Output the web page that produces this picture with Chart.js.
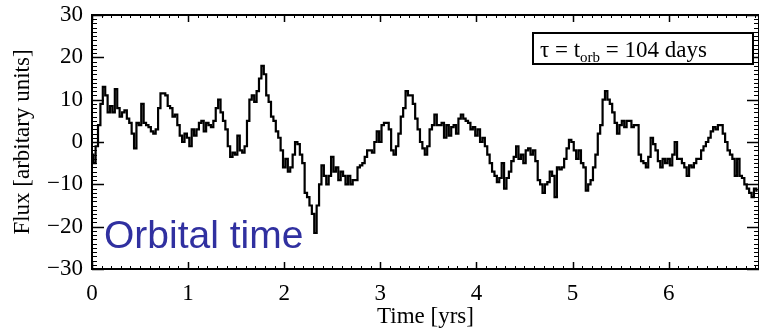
<!DOCTYPE html>
<html><head><meta charset="utf-8">
<script src="https://cdn.jsdelivr.net/npm/chart.js@4/dist/chart.umd.min.js"></script>
<style>html,body{margin:0;padding:0;background:#fff}canvas{display:block}</style>
</head><body>
<canvas id="c" width="762" height="330"></canvas>
<script>
// Time in years (uniform sampling)
const times = [
0,0.025,0.05,0.075,0.1,0.125,0.15,0.175,
0.2,0.225,0.25,0.275,0.3,0.325,0.35,0.375,
0.4,0.425,0.45,0.475,0.5,0.525,0.55,0.575,
0.6,0.625,0.65,0.675,0.7,0.725,0.75,0.775,
0.8,0.825,0.85,0.875,0.9,0.925,0.95,0.975,
1,1.025,1.05,1.075,1.1,1.125,1.15,1.175,
1.2,1.225,1.25,1.275,1.3,1.325,1.35,1.375,
1.4,1.425,1.45,1.475,1.5,1.525,1.55,1.575,
1.6,1.625,1.65,1.675,1.7,1.725,1.75,1.775,
1.8,1.825,1.85,1.875,1.9,1.925,1.95,1.975,
2,2.025,2.05,2.075,2.1,2.125,2.15,2.175,
2.2,2.225,2.25,2.275,2.3,2.325,2.35,2.375,
2.4,2.425,2.45,2.475,2.5,2.525,2.55,2.575,
2.6,2.625,2.65,2.675,2.7,2.725,2.75,2.775,
2.8,2.825,2.85,2.875,2.9,2.925,2.95,2.975,
3,3.025,3.05,3.075,3.1,3.125,3.15,3.175,
3.2,3.225,3.25,3.275,3.3,3.325,3.35,3.375,
3.4,3.425,3.45,3.475,3.5,3.525,3.55,3.575,
3.6,3.625,3.65,3.675,3.7,3.725,3.75,3.775,
3.8,3.825,3.85,3.875,3.9,3.925,3.95,3.975,
4,4.025,4.05,4.075,4.1,4.125,4.15,4.175,
4.2,4.225,4.25,4.275,4.3,4.325,4.35,4.375,
4.4,4.425,4.45,4.475,4.5,4.525,4.55,4.575,
4.6,4.625,4.65,4.675,4.7,4.725,4.75,4.775,
4.8,4.825,4.85,4.875,4.9,4.925,4.95,4.975,
5,5.025,5.05,5.075,5.1,5.125,5.15,5.175,
5.2,5.225,5.25,5.275,5.3,5.325,5.35,5.375,
5.4,5.425,5.45,5.475,5.5,5.525,5.55,5.575,
5.6,5.625,5.65,5.675,5.7,5.725,5.75,5.775,
5.8,5.825,5.85,5.875,5.9,5.925,5.95,5.975,
6,6.025,6.05,6.075,6.1,6.125,6.15,6.175,
6.2,6.225,6.25,6.275,6.3,6.325,6.35,6.375,
6.4,6.425,6.45,6.475,6.5,6.525,6.55,6.575,
6.6,6.625,6.65,6.675,6.7,6.725,6.75,6.775,
6.8,6.825,6.85,6.875,6.9,6.925
];
// Flux [arbitrary units]
const flux = [
-3,-5,-1,4,9,13,11,7,
8.5,7,12.5,8,6,7,7.5,5.5,
4.5,2,-1.5,4.5,4,9,4.5,4,
3.5,2.5,2,3,8,11.5,11.5,11,
8.5,8,6,6.5,4,1.5,0,2,
1,-1,3,1.5,3,4.5,5,2.5,
4.5,4,3.5,5,8,10,7,5,
3,-1,-3.5,-2.5,-3,1.5,-2,-2.5,
-1,5,10,11,9.5,12,15,18,
16,11,9.5,6,5,2.5,1,-2,
-6,-4,-7,-6,-3,0,-0.5,-3,
-5,-12,-13,-15,-17,-21.5,-15,-10,
-5.5,-8,-10,-8,-3.5,-7,-6,-9,
-7,-8,-10,-8,-10,-9,-9,-6,
-5.5,-5,-3.5,-2,-2,-2.5,0,2.5,
0,4,4.5,4.5,3,-2,-3,-1,
2,6,8,12,11,11,9,5.5,
3,0,-1.5,-3,-1,3,4,6.5,
4,4,4.5,1,4,1.5,3.5,4,
2,5.5,6.5,5.5,5,4.5,3,3.5,
1.5,3,0,1,-1,-3,-5,-7,
-8,-9.5,-8.5,-5,-11,-8.5,-7,-4.5,
-3.5,-1,-4,-3,-5,-2,-1.5,-3,
-2,-4.5,-9,-10,-12,-10,-9.5,-7,
-8,-13,-6,-6.5,-6,-4,-1.5,0.5,
0,-2,-4,-2,-5,-6,-11.5,-10,
-9,-6,-3,2,4,10,12,10,
9,7,4.5,2,4,5,3.5,5,
5,3.5,4,4,-3,-4.5,-5,-6,
-3.5,1,-0.5,-2,-4.5,-6,-4,-5,
-4,-5.5,-3,0,-4,-4,-5,-6,
-8,-5.5,-6,-5,-4,-4,-2,-1,
0,1,2.5,3.5,3,4,4,2,
0,-2,-3,-4,-8,-4,-8,-8.5,
-10,-11,-12,-13,-11,-11.5
];
const xRange = [0, 6.94];
const yRange = [-30, 30];
const xTickLabels = [0,1,2,3,4,5,6];
const yTickLabels = [-30,-20,-10,0,10,20,30];
const xTitle = 'Time [yrs]';
const yTitle = 'Flux [arbitary units]';
const legendParts = ['\u03C4 = t', 'orb', ' = 104 days'];
const overlayText = 'Orbital time';

const SERIF = '"Liberation Serif", "Times New Roman", serif';

const framePlugin = {
  id: 'frame',
  afterDatasetsDraw(chart) {
    const {ctx, chartArea: a, scales: {x, y}} = chart;
    ctx.save();
    ctx.strokeStyle = '#000';
    // y ticks (inward, both sides)
    for (let v = yRange[0]; v <= yRange[1]; v += 1) {
      const py = Math.round(y.getPixelForValue(v)) + 0.5;
      const major = yTickLabels.includes(v);
      const L = major ? 12 : 5;
      ctx.lineWidth = major ? 1.5 : 1;
      ctx.beginPath();
      ctx.moveTo(a.left, py); ctx.lineTo(a.left + L, py);
      ctx.moveTo(a.right, py); ctx.lineTo(a.right - L, py);
      ctx.stroke();
    }
    // x ticks (inward, top and bottom)
    for (let i = 0; i / 10 <= xRange[1]; i++) {
      const v = i / 10;
      const px = Math.round(x.getPixelForValue(v)) + 0.5;
      const major = i % 10 === 0;
      const L = major ? 7 : 3;
      ctx.lineWidth = major ? 1.5 : 1;
      ctx.beginPath();
      ctx.moveTo(px, a.bottom); ctx.lineTo(px, a.bottom - L);
      ctx.moveTo(px, a.top); ctx.lineTo(px, a.top + L);
      ctx.stroke();
    }
    // frame
    ctx.lineWidth = 2;
    ctx.beginPath();
    ctx.moveTo(a.right, a.top); ctx.lineTo(a.left, a.top);
    ctx.lineTo(a.left, a.bottom); ctx.lineTo(a.right, a.bottom);
    ctx.stroke();
    ctx.lineWidth = 1;
    ctx.beginPath();
    ctx.moveTo(a.right - 0.5, a.top); ctx.lineTo(a.right - 0.5, a.bottom);
    ctx.stroke();

    // legend box
    const bx = a.right - 226, by = a.top + 18, bw = 220, bh = 31;
    ctx.fillStyle = '#fff';
    ctx.fillRect(bx, by, bw, bh);
    ctx.lineWidth = 2;
    ctx.strokeRect(bx, by, bw, bh);
    ctx.fillStyle = '#000';
    ctx.textBaseline = 'alphabetic';
    ctx.textAlign = 'left';
    let tx = bx + 7;
    const base = by + 24;
    ctx.font = '23px ' + SERIF;
    ctx.fillText(legendParts[0], tx, base);
    tx += ctx.measureText(legendParts[0]).width;
    ctx.font = '15px ' + SERIF;
    ctx.fillText(legendParts[1], tx, base + 5);
    tx += ctx.measureText(legendParts[1]).width;
    ctx.font = '23px ' + SERIF;
    ctx.fillText(legendParts[2], tx, base);

    // overlay text
    ctx.font = '39px "Liberation Sans", Arial, sans-serif';
    ctx.fillStyle = 'rgb(48,48,160)';
    ctx.fillText(overlayText, a.left + 12, a.bottom - 21);
    ctx.restore();
  }
};

new Chart(document.getElementById('c'), {
  type: 'line',
  data: {
    datasets: [{
      data: times.map((t, i) => ({x: t, y: flux[i]})),
      borderColor: '#000',
      borderWidth: 2.2,
      pointRadius: 0,
      stepped: 'middle',
      fill: false
    }]
  },
  options: {
    responsive: false,
    animation: false,
    layout: {padding: {left: 0, right: 3, top: 15, bottom: 0}},
    plugins: {legend: {display: false}, tooltip: {enabled: false}},
    scales: {
      x: {
        type: 'linear', min: xRange[0], max: xRange[1],
        grid: {display: false, drawTicks: false},
        border: {display: false},
        ticks: {
          stepSize: 1, includeBounds: false, padding: 11,
          color: '#000', font: {family: SERIF, size: 23},
          callback: (v) => xTickLabels.includes(v) ? String(v) : ''
        },
        title: {display: true, text: xTitle, color: '#000', font: {family: SERIF, size: 23}, padding: {top: 0, bottom: -1}},
        afterFit: (s) => { s.height = 61; s.paddingLeft = 0; s.paddingRight = 0; }
      },
      y: {
        min: yRange[0], max: yRange[1],
        grid: {display: false, drawTicks: false},
        border: {display: false},
        ticks: {
          stepSize: 10, padding: 9,
          color: '#000', font: {family: SERIF, size: 23},
          callback: (v) => yTickLabels.includes(v) ? (v < 0 ? '\u2212' + Math.abs(v) : String(v)) : ''
        },
        title: {display: true, text: yTitle, color: '#000', font: {family: SERIF, size: 23}, padding: {top: 9, bottom: 0}},
        afterFit: (s) => { s.width = 92; s.paddingTop = 0; s.paddingBottom = 0; }
      }
    }
  },
  plugins: [framePlugin]
});
</script>
</body></html>
